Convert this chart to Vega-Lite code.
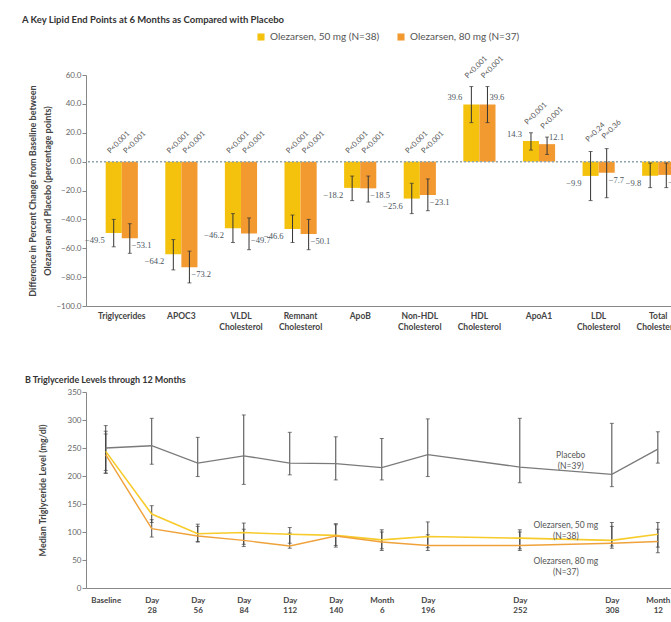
{
  "$schema": "https://vega.github.io/schema/vega-lite/v6.json",
  "padding": {"left": 22, "top": 14, "right": 0, "bottom": 0},
  "background": "white",
  "config": {
    "font": "Lato",
    "view": {"stroke": null},
    "axis": {"labelFont": "Lato", "titleFont": "Lato", "grid": false, "domainColor": "#888", "tickColor": "#888", "labelOverlap": false}
  },
  "spacing": 86,
  "bounds": "flush",
  "resolve": {"scale": {"color": "independent", "x": "independent", "y": "independent", "strokeWidth": "independent"}},
  "vconcat": [
    {
      "width": 608,
      "height": 231,
      "title": {"text": "A  Key Lipid End Points at 6 Months as Compared with Placebo", "anchor": "start", "frame": "group", "dx": -64, "offset": 8, "fontSize": 9.5, "fontWeight": "bold", "color": "#333", "font": "Lato"},
      "data": {"values": [
        {"cat": "Triglycerides", "grp": "Olezarsen, 50 mg (N=38)", "dose": 50, "value": -49.5, "lo": -59, "hi": -40, "p": "P<0.001"},
        {"cat": "Triglycerides", "grp": "Olezarsen, 80 mg (N=37)", "dose": 80, "value": -53.1, "lo": -63.5, "hi": -43, "p": "P<0.001"},
        {"cat": "APOC3", "grp": "Olezarsen, 50 mg (N=38)", "dose": 50, "value": -64.2, "lo": -75, "hi": -54, "p": "P<0.001"},
        {"cat": "APOC3", "grp": "Olezarsen, 80 mg (N=37)", "dose": 80, "value": -73.2, "lo": -84, "hi": -62, "p": "P<0.001"},
        {"cat": "VLDL Cholesterol", "grp": "Olezarsen, 50 mg (N=38)", "dose": 50, "value": -46.2, "lo": -56, "hi": -36, "p": "P<0.001"},
        {"cat": "VLDL Cholesterol", "grp": "Olezarsen, 80 mg (N=37)", "dose": 80, "value": -49.7, "lo": -61, "hi": -39, "p": "P<0.001"},
        {"cat": "Remnant Cholesterol", "grp": "Olezarsen, 50 mg (N=38)", "dose": 50, "value": -46.6, "lo": -56, "hi": -37, "p": "P<0.001"},
        {"cat": "Remnant Cholesterol", "grp": "Olezarsen, 80 mg (N=37)", "dose": 80, "value": -50.1, "lo": -61, "hi": -40, "p": "P<0.001"},
        {"cat": "ApoB", "grp": "Olezarsen, 50 mg (N=38)", "dose": 50, "value": -18.2, "lo": -27, "hi": -10, "p": "P<0.001"},
        {"cat": "ApoB", "grp": "Olezarsen, 80 mg (N=37)", "dose": 80, "value": -18.5, "lo": -28, "hi": -10, "p": "P<0.001"},
        {"cat": "Non-HDL Cholesterol", "grp": "Olezarsen, 50 mg (N=38)", "dose": 50, "value": -25.6, "lo": -36, "hi": -15, "p": "P<0.001"},
        {"cat": "Non-HDL Cholesterol", "grp": "Olezarsen, 80 mg (N=37)", "dose": 80, "value": -23.1, "lo": -34, "hi": -12, "p": "P<0.001"},
        {"cat": "HDL Cholesterol", "grp": "Olezarsen, 50 mg (N=38)", "dose": 50, "value": 39.6, "lo": 27, "hi": 52, "p": "P<0.001"},
        {"cat": "HDL Cholesterol", "grp": "Olezarsen, 80 mg (N=37)", "dose": 80, "value": 39.6, "lo": 27, "hi": 52, "p": "P<0.001"},
        {"cat": "ApoA1", "grp": "Olezarsen, 50 mg (N=38)", "dose": 50, "value": 14.3, "lo": 8, "hi": 20, "p": "P<0.001"},
        {"cat": "ApoA1", "grp": "Olezarsen, 80 mg (N=37)", "dose": 80, "value": 12.1, "lo": 5, "hi": 17, "p": "P<0.001"},
        {"cat": "LDL Cholesterol", "grp": "Olezarsen, 50 mg (N=38)", "dose": 50, "value": -9.9, "lo": -27, "hi": 7, "p": "P=0.24"},
        {"cat": "LDL Cholesterol", "grp": "Olezarsen, 80 mg (N=37)", "dose": 80, "value": -7.7, "lo": -25, "hi": 9, "p": "P=0.36"},
        {"cat": "Total Cholesterol", "grp": "Olezarsen, 50 mg (N=38)", "dose": 50, "value": -9.8, "lo": -18, "hi": -1, "p": null},
        {"cat": "Total Cholesterol", "grp": "Olezarsen, 80 mg (N=37)", "dose": 80, "value": -9.2, "lo": -18, "hi": -1, "p": null}
      ]},
      "encoding": {
        "x": {"field": "cat", "type": "nominal", "sort": null,
              "scale": {"paddingInner": 0.46, "paddingOuter": 0.33},
              "axis": {"title": null, "labelAngle": 0, "ticks": false, "domain": true, "labelExpr": "split(datum.label, ' ')", "labelFontSize": 8.5, "labelFontWeight": "bold", "labelColor": "#444", "labelLineHeight": 11, "labelPadding": 5}},
        "xOffset": {"field": "grp", "type": "nominal", "sort": null, "scale": {"paddingInner": 0, "paddingOuter": 0}}
      },
      "layer": [
        {
          "mark": {"type": "bar"},
          "encoding": {
            "y": {"field": "value", "type": "quantitative",
                  "scale": {"domain": [-100, 60], "nice": false},
                  "axis": {"values": [-100, -80, -60, -40, -20, 0, 20, 40, 60], "tickCount": 20, "labelOverlap": false, "format": ".1f", "labelFontSize": 8, "labelColor": "#666", "tickSize": 4, "labelPadding": 1,
                           "title": ["Difference in Percent Change from Baseline between", "Olezarsen and Placebo (percentage points)"],
                           "titleFontSize": 9, "titleFontWeight": "bold", "titleColor": "#444", "titleLineHeight": 15, "titlePadding": 3}},
            "color": {"field": "grp", "type": "nominal",
                      "scale": {"domain": ["Olezarsen, 50 mg (N=38)", "Olezarsen, 80 mg (N=37)"], "range": ["#F4C20D", "#F29A30"]},
                      "legend": {"orient": "none", "legendX": 170, "legendY": -43, "direction": "horizontal", "title": null, "symbolType": "square", "symbolSize": 50, "symbolStrokeWidth": 0, "labelFontSize": 10, "labelColor": "#555", "columnPadding": 16, "labelOffset": 4, "labelFont": "Lato"}}
          }
        },
        {
          "data": {"values": [{"ref": 0}]},
          "mark": {"type": "rule", "color": "#8fa3ad", "strokeDash": [2, 2], "strokeWidth": 1.5},
          "encoding": {"y": {"field": "ref", "type": "quantitative"}, "x": null, "xOffset": null}
        },
        {
          "mark": {"type": "rule", "color": "#333", "strokeWidth": 1},
          "encoding": {"y": {"field": "lo", "type": "quantitative"}, "y2": {"field": "hi"}}
        },
        {
          "mark": {"type": "tick", "color": "#333", "orient": "horizontal", "size": 4, "thickness": 1},
          "encoding": {"y": {"field": "lo", "type": "quantitative"}}
        },
        {
          "mark": {"type": "tick", "color": "#333", "orient": "horizontal", "size": 4, "thickness": 1},
          "encoding": {"y": {"field": "hi", "type": "quantitative"}}
        },
        {
          "transform": [{"filter": "datum.dose == 50 && datum.value < 0"}],
          "mark": {"type": "text", "align": "right", "baseline": "middle", "dx": -9, "dy": 7, "font": "Liberation Serif", "fontSize": 8.5, "color": "#4a5560"},
          "encoding": {"y": {"field": "value", "type": "quantitative"}, "text": {"field": "value", "type": "quantitative", "format": ".1f"}}
        },
        {
          "transform": [{"filter": "datum.dose == 80 && datum.value < 0"}],
          "mark": {"type": "text", "align": "left", "baseline": "middle", "dx": 2, "dy": 7, "font": "Liberation Serif", "fontSize": 8.5, "color": "#4a5560"},
          "encoding": {"y": {"field": "value", "type": "quantitative"}, "text": {"field": "value", "type": "quantitative", "format": ".1f"}}
        },
        {
          "transform": [{"filter": "datum.dose == 50 && datum.value >= 0"}],
          "mark": {"type": "text", "align": "right", "baseline": "middle", "dx": -9, "dy": -7, "font": "Liberation Serif", "fontSize": 8.5, "color": "#4a5560"},
          "encoding": {"y": {"field": "value", "type": "quantitative"}, "text": {"field": "value", "type": "quantitative", "format": ".1f"}}
        },
        {
          "transform": [{"filter": "datum.dose == 80 && datum.value >= 0"}],
          "mark": {"type": "text", "align": "left", "baseline": "middle", "dx": 2, "dy": -7, "font": "Liberation Serif", "fontSize": 8.5, "color": "#4a5560"},
          "encoding": {"y": {"field": "value", "type": "quantitative"}, "text": {"field": "value", "type": "quantitative", "format": ".1f"}}
        },
        {
          "transform": [{"filter": "datum.p != null && datum.hi < 0"}],
          "mark": {"type": "text", "angle": 315, "align": "center", "baseline": "middle", "dx": 17, "dy": -10, "fontSize": 7.5, "color": "#555"},
          "encoding": {"y": {"datum": 0, "type": "quantitative"}, "text": {"field": "p"}}
        },
        {
          "transform": [{"filter": "datum.p != null && datum.hi >= 0"}],
          "mark": {"type": "text", "angle": 315, "align": "center", "baseline": "middle", "dx": 17, "dy": -10, "fontSize": 7.5, "color": "#555"},
          "encoding": {"y": {"field": "hi", "type": "quantitative"}, "text": {"field": "p"}}
        }
      ]
    },
    {
      "width": 608,
      "height": 196,
      "title": {"text": "B  Triglyceride Levels through 12 Months", "anchor": "start", "frame": "group", "dx": -61, "offset": 3, "fontSize": 9, "fontWeight": "bold", "color": "#333", "font": "Lato"},
      "data": {"values": [
        {"day": 0, "series": "Placebo", "value": 250, "lo": 205, "hi": 290},
        {"day": 28, "series": "Placebo", "value": 254, "lo": 221, "hi": 303},
        {"day": 56, "series": "Placebo", "value": 223, "lo": 199, "hi": 269},
        {"day": 84, "series": "Placebo", "value": 236, "lo": 185, "hi": 309},
        {"day": 112, "series": "Placebo", "value": 223, "lo": 202, "hi": 278},
        {"day": 140, "series": "Placebo", "value": 222, "lo": 193, "hi": 270},
        {"day": 168, "series": "Placebo", "value": 215, "lo": 193, "hi": 267},
        {"day": 196, "series": "Placebo", "value": 238, "lo": 199, "hi": 302},
        {"day": 252, "series": "Placebo", "value": 216, "lo": 188, "hi": 303},
        {"day": 308, "series": "Placebo", "value": 203, "lo": 181, "hi": 294},
        {"day": 336, "series": "Placebo", "value": 248, "lo": 223, "hi": 279},
        {"day": 0, "series": "Olezarsen, 50 mg", "value": 244, "lo": 210, "hi": 280},
        {"day": 28, "series": "Olezarsen, 50 mg", "value": 132, "lo": 117, "hi": 147},
        {"day": 56, "series": "Olezarsen, 50 mg", "value": 97, "lo": 83, "hi": 114},
        {"day": 84, "series": "Olezarsen, 50 mg", "value": 99, "lo": 78, "hi": 116},
        {"day": 112, "series": "Olezarsen, 50 mg", "value": 96, "lo": 80, "hi": 108},
        {"day": 140, "series": "Olezarsen, 50 mg", "value": 94, "lo": 76, "hi": 113},
        {"day": 168, "series": "Olezarsen, 50 mg", "value": 86, "lo": 70, "hi": 104},
        {"day": 196, "series": "Olezarsen, 50 mg", "value": 92, "lo": 72, "hi": 118},
        {"day": 252, "series": "Olezarsen, 50 mg", "value": 89, "lo": 70, "hi": 104},
        {"day": 308, "series": "Olezarsen, 50 mg", "value": 85, "lo": 75, "hi": 117},
        {"day": 336, "series": "Olezarsen, 50 mg", "value": 96, "lo": 73, "hi": 117},
        {"day": 0, "series": "Olezarsen, 80 mg", "value": 238, "lo": 205, "hi": 275},
        {"day": 28, "series": "Olezarsen, 80 mg", "value": 106, "lo": 91, "hi": 122},
        {"day": 56, "series": "Olezarsen, 80 mg", "value": 93, "lo": 82, "hi": 110},
        {"day": 84, "series": "Olezarsen, 80 mg", "value": 85, "lo": 74, "hi": 105},
        {"day": 112, "series": "Olezarsen, 80 mg", "value": 75, "lo": 71, "hi": 98},
        {"day": 140, "series": "Olezarsen, 80 mg", "value": 93, "lo": 73, "hi": 115},
        {"day": 168, "series": "Olezarsen, 80 mg", "value": 82, "lo": 67, "hi": 100},
        {"day": 196, "series": "Olezarsen, 80 mg", "value": 76, "lo": 67, "hi": 95},
        {"day": 252, "series": "Olezarsen, 80 mg", "value": 76, "lo": 67, "hi": 100},
        {"day": 308, "series": "Olezarsen, 80 mg", "value": 80, "lo": 71, "hi": 110},
        {"day": 336, "series": "Olezarsen, 80 mg", "value": 83, "lo": 63, "hi": 105}
      ]},
      "encoding": {
        "x": {"field": "day", "type": "quantitative",
              "scale": {"domain": [-12, 358], "nice": false, "zero": false},
              "axis": {"title": null, "values": [0, 28, 56, 84, 112, 140, 168, 196, 252, 308, 336], "tickCount": 20, "ticks": false, "domain": true,
                       "labelExpr": "datum.value == 0 ? 'Baseline' : datum.value == 168 ? ['Month', '6'] : datum.value == 336 ? ['Month', '12'] : ['Day', datum.label]",
                       "labelFontSize": 8, "labelFontWeight": "bold", "labelColor": "#444", "labelLineHeight": 10, "labelPadding": 8, "labelBaseline": "top"}}
      },
      "layer": [
        {
          "mark": {"type": "rule", "color": "#444", "strokeWidth": 1},
          "encoding": {
            "y": {"field": "lo", "type": "quantitative",
                  "scale": {"domain": [0, 350], "nice": false},
                  "axis": {"values": [0, 50, 100, 150, 200, 250, 300, 350], "tickCount": 20, "labelOverlap": false, "labelFontSize": 8, "labelColor": "#666", "tickSize": 4, "labelPadding": 1,
                           "title": "Median Triglyceride Level (mg/dl)", "titleFontSize": 9, "titleFontWeight": "bold", "titleColor": "#444", "titlePadding": 20}},
            "y2": {"field": "hi"}
          }
        },
        {
          "mark": {"type": "tick", "color": "#444", "orient": "horizontal", "size": 4, "thickness": 1},
          "encoding": {"y": {"field": "lo", "type": "quantitative"}}
        },
        {
          "mark": {"type": "tick", "color": "#444", "orient": "horizontal", "size": 4, "thickness": 1},
          "encoding": {"y": {"field": "hi", "type": "quantitative"}}
        },
        {
          "mark": {"type": "line"},
          "encoding": {
            "y": {"field": "value", "type": "quantitative"},
            "color": {"field": "series", "type": "nominal", "scale": {"domain": ["Placebo", "Olezarsen, 80 mg", "Olezarsen, 50 mg"], "range": ["#7a7a7a", "#F0A23A", "#F7CB2A"]}, "legend": null},
            "strokeWidth": {"field": "series", "type": "nominal", "scale": {"domain": ["Placebo", "Olezarsen, 80 mg", "Olezarsen, 50 mg"], "range": [1.3, 1.6, 2.8]}, "legend": null},
            "order": {"field": "day", "type": "quantitative"}
          }
        },
        {
          "data": {"values": [
            {"day": 283, "value": 238, "text": "Placebo\n(N=39)"},
            {"day": 280, "value": 113, "text": "Olezarsen, 50 mg\n(N=38)"},
            {"day": 280, "value": 48, "text": "Olezarsen, 80 mg\n(N=37)"}
          ]},
          "mark": {"type": "text", "align": "center", "baseline": "middle", "lineBreak": "\n", "lineHeight": 11, "fontSize": 8.5, "color": "#555"},
          "encoding": {"y": {"field": "value", "type": "quantitative"}, "text": {"field": "text"}}
        }
      ]
    }
  ]
}
